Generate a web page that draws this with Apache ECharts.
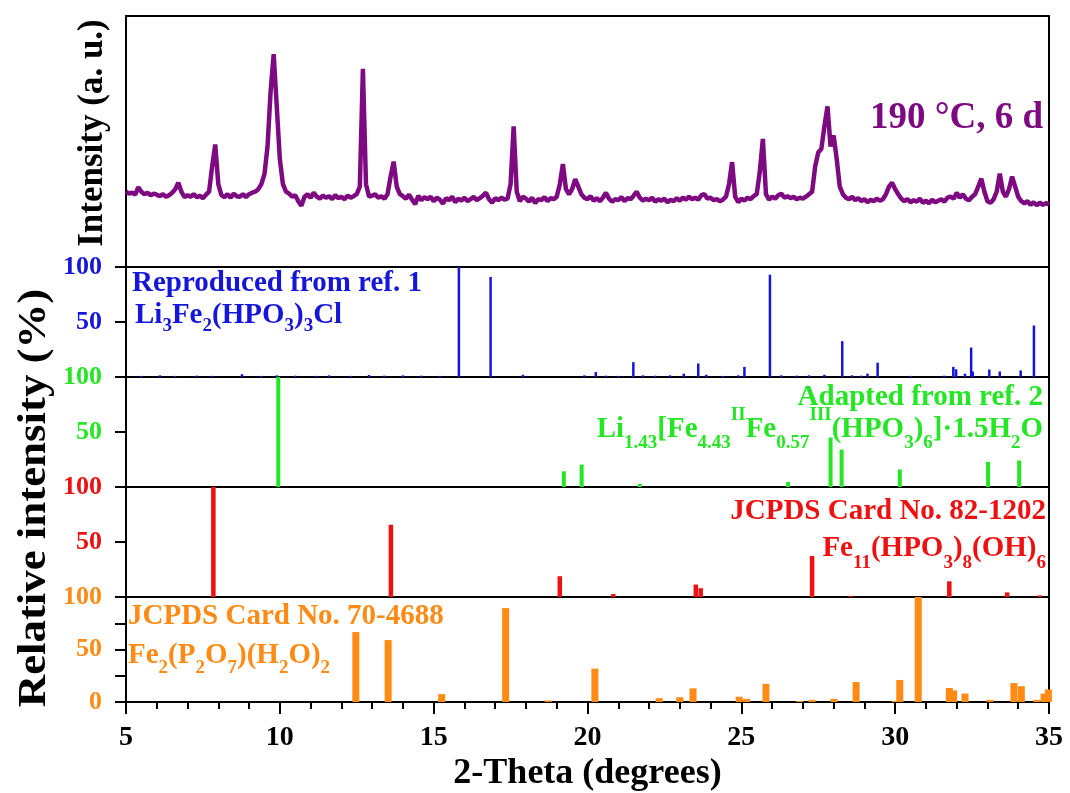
<!DOCTYPE html>
<html>
<head>
<meta charset="utf-8">
<script src="https://cdn.jsdelivr.net/npm/echarts@6/dist/echarts.min.js"></script>
<style>
  html, body { margin: 0; padding: 0; background: #fff; }
  #chart { width: 1070px; height: 793px; }
</style>
</head>
<body>
<div id="chart"></div>
<script>
// ---- data ----
// measured pattern, 2-theta from 5 to 35 every 0.1 deg
var xrdStart = 5;
var xrdStep = 0.1;
var xrdCounts = [
  300, 292, 296, 288, 318, 300, 290, 296, 286, 292,
  288, 282, 290, 280, 286, 296, 310, 336, 300, 278,
  286, 280, 290, 278, 284, 274, 288, 300, 400, 488,
  330, 286, 278, 290, 276, 292, 282, 280, 290, 278,
  290, 296, 300, 310, 330, 370, 480, 700, 848, 640,
  430, 330, 300, 292, 280, 286, 262, 244, 280, 290,
  276, 296, 280, 272, 284, 276, 282, 270, 286, 274,
  280, 270, 284, 276, 282, 290, 320, 790, 330, 280,
  284, 290, 276, 282, 272, 290, 360, 420, 320, 290,
  282, 272, 288, 268, 250, 284, 266, 278, 270, 280,
  262, 276, 268, 252, 274, 266, 280, 258, 272, 264,
  276, 262, 270, 280, 266, 274, 284, 296, 270, 256,
  274, 266, 276, 268, 272, 330, 560, 300, 262, 280,
  272, 260, 276, 254, 270, 266, 278, 262, 274, 270,
  280, 330, 410, 310, 290, 310, 350, 320, 290, 276,
  270, 282, 264, 274, 262, 276, 296, 272, 260, 270,
  266, 278, 262, 274, 270, 284, 300, 276, 264, 272,
  266, 276, 260, 270, 264, 272, 258, 268, 262, 274,
  264, 276, 268, 280, 270, 276, 268, 286, 290, 272,
  276, 266, 270, 262, 268, 280, 330, 418, 280, 258,
  272, 264, 276, 270, 282, 290, 380, 510, 290, 268,
  280, 272, 286, 292, 276, 282, 274, 280, 270, 276,
  272, 280, 290, 300, 400, 456, 470, 560, 640, 480,
  524, 430, 320, 290, 276, 270, 280, 266, 274, 262,
  270, 258, 268, 262, 272, 264, 270, 290, 320, 336,
  310, 290, 272, 262, 270, 258, 266, 260, 272, 256,
  264, 254, 268, 258, 264, 270, 260, 276, 280, 272,
  296, 276, 290, 272, 266, 280, 290, 320, 352, 300,
  262, 256, 270, 300, 372, 300, 280, 310, 360, 320,
  280, 262, 254, 262, 248, 258, 246, 256, 248, 254,
  250
];

// reference stick patterns [2-theta, relative intensity %]
var ref1Sticks = [
  [5.5, 1], [6.1, 1.5], [6.6, 1], [7.3, 1.2], [7.8, 1], [8.77, 2.5], [9.4, 1], [9.9, 1.5],
  [10.5, 1.2], [11.2, 1], [11.6, 1.5], [12.3, 1], [12.9, 1.8], [13.4, 1.2], [14.0, 1.5],
  [14.6, 1.2], [15.2, 1], [15.82, 100], [16.85, 91], [17.9, 2], [19.9, 1.5], [20.27, 4.5],
  [20.6, 1.2], [21.0, 1], [21.49, 13.5], [21.8, 1.5], [22.2, 1.2], [22.68, 1.5], [23.13, 3],
  [23.6, 12.3], [23.86, 2], [24.4, 1], [24.9, 1.5], [25.1, 9.2], [25.93, 93], [26.3, 1.5],
  [26.8, 1.2], [27.2, 1.5], [27.7, 2], [28.28, 32.6], [28.6, 1.5], [28.9, 1.2], [29.1, 3],
  [29.43, 13], [30.5, 1], [31.6, 1.2], [31.89, 9.2], [31.98, 7], [32.27, 3], [32.47, 26.8],
  [32.52, 5], [33.06, 6.8], [33.4, 5], [34.08, 6], [34.51, 46.8]
];
var ref2Sticks = [
  [9.95, 100], [19.23, 14.3], [19.81, 20.4], [21.7, 2.8], [26.52, 4.6], [27.9, 45],
  [28.26, 34], [30.15, 15.9], [33.02, 22.9], [34.03, 24.1]
];
var card821202Sticks = [
  [7.84, 100], [13.61, 65.7], [19.1, 18.9], [20.84, 2.7], [23.52, 11.3], [23.68, 8],
  [27.3, 37.3], [28.55, 1], [31.76, 14.3], [33.64, 4.2], [34.7, 1.5]
];
var card704688Sticks = [
  [12.47, 66.6], [13.52, 59], [15.26, 7.5], [17.34, 89.4], [18.73, 1.5], [20.24, 31.8],
  [22.33, 3.6], [23.0, 4.5], [23.43, 13], [24.93, 5], [25.17, 3], [25.8, 17.3], [26.9, 1],
  [27.3, 2], [28.01, 3], [28.73, 19], [30.0, 1], [30.15, 21], [30.75, 100], [31.76, 13.3],
  [31.9, 11], [32.27, 8], [33.08, 2], [33.86, 18], [34.1, 15], [34.6, 2], [34.84, 8], [34.98, 12]
];

var xTickLabels = [5, 10, 15, 20, 25, 30, 35];
var sampleLabel = '190 °C, 6 d';
var xName = '2-Theta (degrees)';
var yNameTop = 'Intensity (a. u.)';
var yNameSticks = 'Relative intensity (%)';

// ---- style ----
var FONT = '"Liberation Serif", "Times New Roman", serif';
var PURPLE = '#7d0a80';
var BLUE = '#1616d8';
var GREEN = '#25e625';
var RED = '#ee1111';
var ORANGE = '#ff8a14';

var xrdData = xrdCounts.map(function (v, i) {
  return [+(xrdStart + i * xrdStep).toFixed(1), v];
});

function font(size) {
  return 'bold ' + size + 'px ' + FONT;
}

// rich text styles: m = main, s = subscript, p = superscript
function rich(color, subPad, supPad) {
  return {
    m: { font: font(29), fill: color },
    s: { font: font(19), fill: color, padding: [subPad, 0, 0, 0] },
    p: { font: font(19), fill: color, padding: [0, 0, supPad, 0] }
  };
}

var panelTops = [16, 267, 377, 487, 597];
var panelHeights = [251, 110, 110, 110, 111];

var grids = panelTops.map(function (t, i) {
  return {
    left: 126, right: 21, top: t, height: panelHeights[i],
    show: true, borderColor: '#000', borderWidth: 2, backgroundColor: 'transparent'
  };
});

var xAxes = grids.map(function (g, i) {
  var bottom = i === grids.length - 1;
  return {
    type: 'value', gridIndex: i,
    min: xTickLabels[0], max: xTickLabels[xTickLabels.length - 1], interval: 5,
    show: bottom,
    axisLine: { lineStyle: { color: '#000', width: 2 } },
    axisTick: { length: 12, lineStyle: { color: '#000', width: 2 } },
    minorTick: { show: true, splitNumber: 5, length: 7, lineStyle: { color: '#000', width: 2 } },
    axisLabel: { color: '#000', fontFamily: FONT, fontWeight: 'bold', fontSize: 28, margin: 22 },
    splitLine: { show: false },
    name: bottom ? xName : '',
    nameLocation: 'middle', nameGap: 54,
    nameTextStyle: { color: '#000', fontFamily: FONT, fontWeight: 'bold', fontSize: 36 }
  };
});

function stickAxis(i, color, last) {
  return {
    type: 'value', gridIndex: i, min: 0, max: 100, interval: last ? 25 : 50,
    axisLine: { show: true, lineStyle: { color: '#000', width: 2 } },
    axisTick: { show: true, length: 11, lineStyle: { color: '#000', width: 2 } },
    axisLabel: {
      color: color, fontFamily: FONT, fontWeight: 'bold', fontSize: 26, margin: 24,
      formatter: function (v) {
        if (v === 25 || v === 75) return '';
        if (v === 0 && !last) return '';
        return String(v);
      }
    },
    splitLine: { show: false }
  };
}

var yAxes = [
  { type: 'value', gridIndex: 0, min: 0, max: 1000, show: false },
  stickAxis(1, BLUE, false),
  stickAxis(2, GREEN, false),
  stickAxis(3, RED, false),
  stickAxis(4, ORANGE, true)
];

function sticks(i, data, color, w) {
  return {
    type: 'bar', xAxisIndex: i, yAxisIndex: i, data: data,
    barWidth: w, itemStyle: { color: color }, silent: true
  };
}

var option = {
  animation: false,
  backgroundColor: '#fff',
  grid: grids,
  xAxis: xAxes,
  yAxis: yAxes,
  series: [
    {
      type: 'line', xAxisIndex: 0, yAxisIndex: 0, data: xrdData,
      showSymbol: false, lineStyle: { color: PURPLE, width: 4.5 }, z: 3
    },
    sticks(1, ref1Sticks, BLUE, 2.5),
    sticks(2, ref2Sticks, GREEN, 4),
    sticks(3, card821202Sticks, RED, 4.5),
    sticks(4, card704688Sticks, ORANGE, 7)
  ],
  graphic: [
    { type: 'text', x: 93, y: 133, rotation: Math.PI / 2,
      style: { text: yNameTop, font: font(35), fill: '#000', align: 'center', verticalAlign: 'middle' } },
    { type: 'text', x: 35, y: 498, rotation: Math.PI / 2, scaleX: 1.15,
      style: { text: yNameSticks, font: font(39), fill: '#000', align: 'center', verticalAlign: 'middle' } },
    { type: 'text', x: 1043, y: 118,
      style: { text: sampleLabel, font: font(37), fill: PURPLE, align: 'right', verticalAlign: 'middle' } },

    { type: 'text', x: 132, y: 284,
      style: { text: 'Reproduced from ref. 1', font: font(29), fill: BLUE, align: 'left', verticalAlign: 'middle' } },
    { type: 'text', x: 135, y: 316,
      style: { text: '{m|Li}{s|3}{m|Fe}{s|2}{m|(HPO}{s|3}{m|)}{s|3}{m|Cl}',
        rich: rich(BLUE, 20, 24), align: 'left', verticalAlign: 'middle' } },

    { type: 'text', x: 1043, y: 398,
      style: { text: 'Adapted from ref. 2', font: font(29), fill: GREEN, align: 'right', verticalAlign: 'middle' } },
    { type: 'text', x: 1043, y: 430,
      style: { text: '{m|Li}{s|1.43}{m|[Fe}{s|4.43}{p|II}{m|Fe}{s|0.57}{p|III}{m|(HPO}{s|3}{m|)}{s|6}{m|]·1.5H}{s|2}{m|O}',
        rich: rich(GREEN, 26, 30), align: 'right', verticalAlign: 'middle' } },

    { type: 'text', x: 1046, y: 512,
      style: { text: 'JCPDS Card No. 82-1202', font: font(29), fill: RED, align: 'right', verticalAlign: 'middle' } },
    { type: 'text', x: 1046, y: 549,
      style: { text: '{m|Fe}{s|11}{m|(HPO}{s|3}{m|)}{s|8}{m|(OH)}{s|6}',
        rich: rich(RED, 28, 30), align: 'right', verticalAlign: 'middle' } },

    { type: 'text', x: 128, y: 617,
      style: { text: 'JCPDS Card No. 70-4688', font: font(29), fill: ORANGE, align: 'left', verticalAlign: 'middle' } },
    { type: 'text', x: 128, y: 656,
      style: { text: '{m|Fe}{s|2}{m|(P}{s|2}{m|O}{s|7}{m|)(H}{s|2}{m|O)}{s|2}',
        rich: rich(ORANGE, 25, 30), align: 'left', verticalAlign: 'middle' } }
  ]
};

var chart = echarts.init(document.getElementById('chart'), null, { renderer: 'canvas' });
chart.setOption(option);
</script>
</body>
</html>
